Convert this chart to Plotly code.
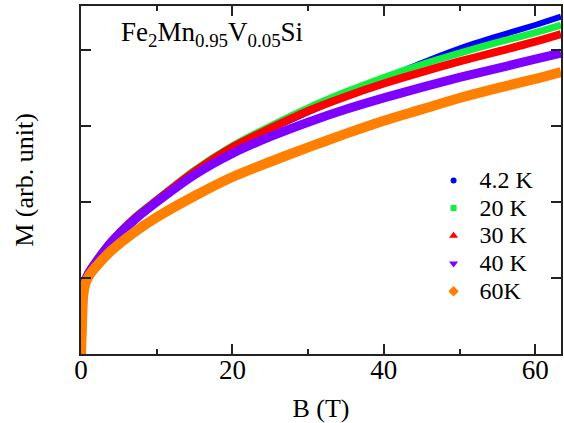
import plotly.graph_objects as go

# Magnetic field (T)
field = [0, 0.15, 0.3, 0.6, 1, 2, 4, 7, 10, 15, 20, 25, 30, 35, 40, 45, 50, 55, 60, 63.4]

# Magnetization (arb. unit) for each temperature
m_4K = [0, 0.5, 0.83, 0.99, 1.08, 1.23, 1.49, 1.79, 2.03, 2.41, 2.72, 2.96, 3.18, 3.40, 3.62, 3.83, 4.02, 4.18, 4.33, 4.44]
m_20K = [0, 0.5, 0.83, 0.99, 1.08, 1.23, 1.49, 1.79, 2.03, 2.42, 2.74, 3.00, 3.24, 3.45, 3.64, 3.81, 3.96, 4.10, 4.23, 4.33]
m_30K = [0, 0.5, 0.82, 0.98, 1.07, 1.22, 1.48, 1.78, 2.02, 2.40, 2.72, 2.97, 3.20, 3.39, 3.56, 3.71, 3.85, 3.98, 4.11, 4.21]
m_40K = [0, 0.5, 0.82, 0.97, 1.06, 1.21, 1.47, 1.76, 2.00, 2.36, 2.64, 2.86, 3.05, 3.22, 3.37, 3.51, 3.64, 3.76, 3.88, 3.96]
m_60K = [0, 0.45, 0.78, 0.93, 1.02, 1.15, 1.36, 1.60, 1.80, 2.08, 2.33, 2.53, 2.72, 2.90, 3.07, 3.22, 3.37, 3.50, 3.62, 3.71]

labels = ["4.2 K", "20 K", "30 K", "40 K", "60K"]
series = [m_4K, m_20K, m_30K, m_40K, m_60K]
colors = ["#0000FF", "#11F040", "#FF0000", "#8000FF", "#FF8000"]
widths = [6, 7, 8, 9, 10]
symbols = ["circle", "square", "triangle-up", "triangle-down", "diamond"]
msizes = [6, 6, 8, 8, 8]

FONT = "Liberation Serif, Times New Roman, Times, serif"

fig = go.Figure()

for y, c, w in zip(series, colors, widths):
    fig.add_trace(go.Scatter(
        x=field, y=y, mode="lines",
        line=dict(color=c, width=w, shape="spline", smoothing=0.8),
        showlegend=False, hoverinfo="skip",
    ))

# legend entries with the marker symbols
for lab, c, s, ms in zip(labels, colors, symbols, msizes):
    fig.add_trace(go.Scatter(
        x=[None], y=[None], mode="markers",
        name=f'<span style="font-size:24px">{lab}</span>',
        marker=dict(color=c, symbol=s, size=ms),
    ))

axis_common = dict(
    showgrid=False, zeroline=False,
    showline=True, linecolor="#222", linewidth=1.5,
    mirror="allticks", ticks="inside", tickcolor="#222", tickwidth=1.5,
)

fig.update_xaxes(
    range=[0, 63.4], dtick=20, tick0=0, ticklen=10,
    minor=dict(dtick=10, ticks="inside", ticklen=5, tickcolor="#222", tickwidth=1.5),
    tickfont=dict(family=FONT, size=27, color="black"),
    ticklabelstandoff=-9,
    title=dict(text="B (T)", font=dict(family=FONT, size=26, color="black"), standoff=16),
    **axis_common,
)
fig.update_yaxes(
    range=[0, 4.58], dtick=1, tick0=0, ticklen=10,
    showticklabels=False,
    title=dict(text="M (arb. unit)", font=dict(family=FONT, size=26, color="black"), standoff=38),
    **axis_common,
)

fig.add_annotation(
    x=0.08, y=0.975, xref="paper", yref="paper",
    xanchor="left", yanchor="top", showarrow=False,
    text="Fe<sub>2</sub>Mn<sub>0.95</sub>V<sub>0.05</sub>Si",
    font=dict(family=FONT, size=27, color="black"),
)

fig.update_layout(
    width=564, height=423,
    margin=dict(l=81, r=1, t=6, b=69),
    plot_bgcolor="white", paper_bgcolor="white",
    font=dict(family=FONT, color="black"),
    legend=dict(
        x=0.722, y=0.553, xanchor="left", yanchor="top",
        font=dict(family=FONT, size=19, color="black"),
        bgcolor="rgba(0,0,0,0)", itemwidth=42, tracegroupgap=0,
    ),
)

fig.write_html("out.html")
